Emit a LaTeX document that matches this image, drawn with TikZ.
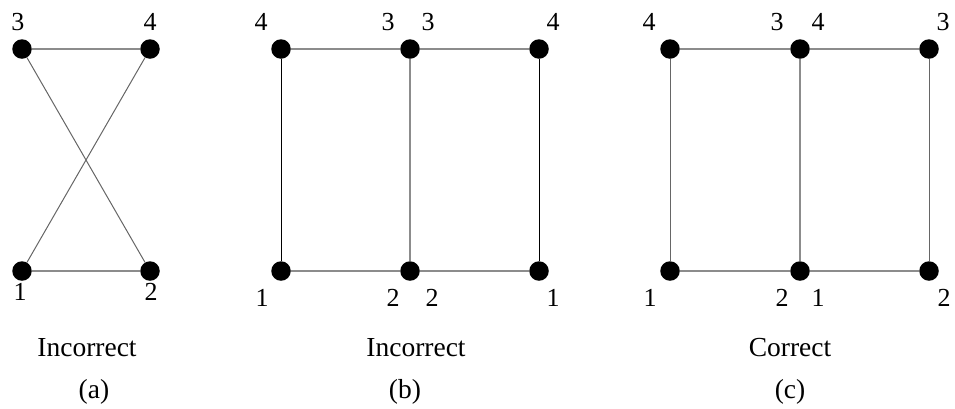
\documentclass[tikz,border=0pt]{standalone}
\usepackage{fontspec}
\setmainfont{Liberation Serif}
\begin{document}
\begin{tikzpicture}[x=1pt,y=-1pt,
  dot/.style={circle,fill=black,inner sep=0pt,minimum size=19.5pt},
  lbl/.style={inner sep=0pt,font=\fontsize{26}{29}\selectfont},
  captxt/.style={inner sep=0pt,font=\fontsize{27.5}{31}\selectfont},
  hedge/.style={draw=black!45,line width=1.2pt},
  vedge/.style={draw=black,line width=0.9pt},
  medge/.style={draw=black!45,line width=1.1pt},
  xedge/.style={draw=black!60,line width=1pt}]
\useasboundingbox (0,0) rectangle (955,408);
% (a)
\node[dot] (a3) at (22,49) {};
\node[dot] (a4) at (150,49) {};
\node[dot] (a1) at (22,271) {};
\node[dot] (a2) at (150,271) {};
\draw[hedge] (a3) -- (a4);
\draw[hedge] (a1) -- (a2);
\draw[xedge] (a3) -- (a2);
\draw[xedge] (a4) -- (a1);
\node[lbl] (la3) at (18,22) {3};
\node[lbl] (la4) at (150,22) {4};
\node[lbl] (la1) at (20,292) {1};
\node[lbl] (la2) at (151,292) {2};
\node[captxt] (ta) at (87,348) {Incorrect};
\node[captxt] (pa) at (94,392) {(a)};
% (b)
\node[dot] (b4) at (281,49) {};
\node[dot] (b3) at (410,49) {};
\node[dot] (b4r) at (539,49) {};
\node[dot] (b1) at (281,271) {};
\node[dot] (b2) at (410,271) {};
\node[dot] (b1r) at (539,271) {};
\draw[hedge] (b4) -- (b3);
\draw[hedge] (b3) -- (b4r);
\draw[hedge] (b1) -- (b2);
\draw[hedge] (b2) -- (b1r);
\draw[vedge] (b4) -- (b1);
\draw[medge] (b3) -- (b2);
\draw[vedge] (b4r) -- (b1r);
\node[lbl] (lb4) at (261,22) {4};
\node[lbl] (lb3) at (388,22) {3};
\node[lbl] (lb3r) at (428,22) {3};
\node[lbl] (lb4r) at (553,22) {4};
\node[lbl] (lb1) at (262,298) {1};
\node[lbl] (lb2) at (393,298) {2};
\node[lbl] (lb2r) at (432,298) {2};
\node[lbl] (lb1r) at (553,298) {1};
\node[captxt] (tb) at (416,348) {Incorrect};
\node[captxt] (pb) at (405,392) {(b)};
% (c)
\node[dot] (c4) at (670,49) {};
\node[dot] (c34) at (800,49) {};
\node[dot] (c3) at (929,49) {};
\node[dot] (c1) at (670,271) {};
\node[dot] (c21) at (800,271) {};
\node[dot] (c2) at (929,271) {};
\draw[hedge] (c4) -- (c34);
\draw[hedge] (c34) -- (c3);
\draw[hedge] (c1) -- (c21);
\draw[hedge] (c21) -- (c2);
\draw[xedge] (c4) -- (c1);
\draw[medge] (c34) -- (c21);
\draw[xedge] (c3) -- (c2);
\node[lbl] (lc4) at (649,22) {4};
\node[lbl] (lc3) at (777,22) {3};
\node[lbl] (lc4r) at (818,22) {4};
\node[lbl] (lc3r) at (943,22) {3};
\node[lbl] (lc1) at (650,298) {1};
\node[lbl] (lc2) at (782,298) {2};
\node[lbl] (lc1r) at (818,298) {1};
\node[lbl] (lc2r) at (944,298) {2};
\node[captxt] (tc) at (790,348) {Correct};
\node[captxt] (pc) at (790,392) {(c)};
\end{tikzpicture}
\end{document}
